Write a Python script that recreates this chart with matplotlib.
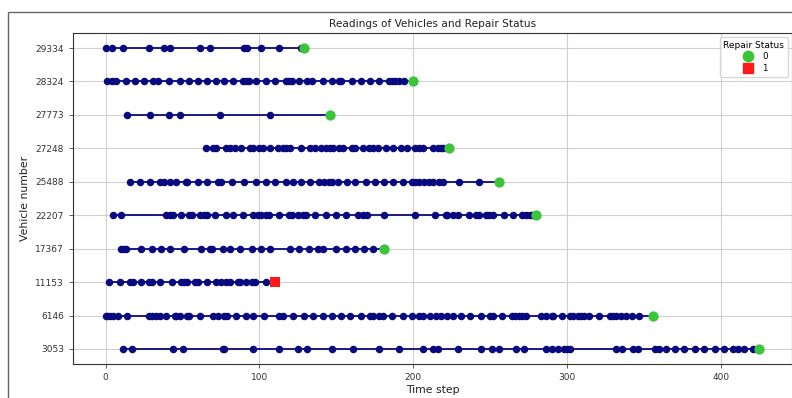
import matplotlib
matplotlib.use("Agg")
import matplotlib.pyplot as plt
from matplotlib.patches import Rectangle
from matplotlib.lines import Line2D

# Vehicles (bottom to top)
vehicles = ["3053", "6146", "11153", "17367", "22207", "25488", "27248", "27773", "28324", "29334"]

# Reading time steps per vehicle (last value = final reading, marked by repair status)
t_3053 = [11, 17, 44, 50, 76, 77, 96, 113, 125, 131, 147, 161, 178, 191, 206, 213, 216, 229,
          244, 251, 256, 267, 272, 286, 290, 294, 298, 300, 302, 332, 336, 343, 346, 357, 360,
          364, 370, 376, 383, 389, 396, 402, 408, 411, 415, 421, 425]
t_6146 = [0, 1, 3, 5, 8, 14, 28, 30, 33, 35, 39, 45, 46, 48, 53, 54, 61, 70, 73, 77, 79, 85, 91,
          96, 103, 113, 115, 122, 129, 135, 141, 147, 153, 159, 166, 172, 174, 178, 180, 186, 193,
          199, 204, 206, 211, 215, 218, 222, 226, 231, 237, 244, 250, 252, 258, 264, 266, 269, 271,
          273, 283, 286, 290, 291, 297, 302, 304, 307, 309, 311, 314, 321, 328, 330, 332, 335, 338,
          342, 347, 356]
t_11153 = [2, 9, 16, 18, 23, 28, 30, 35, 43, 49, 51, 53, 58, 60, 66, 72, 75, 78, 81, 86, 87, 91,
           95, 97, 104, 110]
t_17367 = [10, 12, 13, 23, 30, 36, 42, 51, 62, 68, 69, 76, 81, 87, 95, 101, 107, 120, 126, 132,
           138, 141, 150, 156, 162, 168, 174, 181]
t_22207 = [5, 10, 39, 42, 44, 49, 54, 56, 61, 64, 66, 71, 78, 83, 89, 96, 99, 101, 104, 106, 113,
           119, 121, 125, 128, 130, 136, 143, 150, 156, 164, 167, 170, 181, 201, 214, 221, 222, 226,
           229, 236, 241, 243, 247, 249, 252, 259, 265, 271, 273, 276, 277, 280]
t_25488 = [16, 22, 29, 35, 38, 42, 46, 52, 53, 60, 66, 73, 75, 82, 90, 98, 104, 110, 117, 122, 127,
           133, 139, 142, 145, 147, 151, 157, 162, 169, 175, 181, 187, 193, 199, 201, 204, 207, 210,
           213, 217, 219, 230, 243, 256]
t_27248 = [65, 70, 72, 78, 81, 84, 88, 94, 96, 100, 102, 107, 112, 115, 117, 120, 127, 133, 136,
           140, 143, 146, 148, 152, 154, 160, 162, 167, 171, 174, 177, 182, 187, 192, 196, 201, 204,
           206, 213, 216, 218, 219, 223]
t_27773 = [14, 29, 41, 48, 74, 107, 146]
t_28324 = [1, 4, 7, 13, 19, 25, 31, 34, 41, 48, 54, 60, 66, 72, 77, 83, 89, 91, 93, 98, 104, 110,
           117, 119, 121, 126, 131, 134, 141, 147, 152, 153, 160, 166, 172, 178, 184, 186, 188, 191,
           194, 200]
t_29334 = [0, 4, 11, 28, 38, 42, 61, 68, 90, 92, 101, 113, 127, 129]

readings = [t_3053, t_6146, t_11153, t_17367, t_22207, t_25488, t_27248, t_27773, t_28324, t_29334]
repair_status = [0, 0, 1, 0, 0, 0, 0, 0, 0, 0]

status_colors = {0: "#3DC53A", 1: "#FF1A1A"}
status_markers = {0: "o", 1: "s"}

fig = plt.figure(figsize=(7.92, 3.98), dpi=100)
ax = fig.add_axes([0.0922, 0.0854, 0.9078, 0.8317])

for vid, times, st in zip(vehicles, readings, repair_status):
    ys = [vid] * len(times)
    ax.plot(times, ys, color="#0A0A80", marker="o", markersize=4.4, linewidth=1.3, zorder=3)
    ax.scatter([times[-1]], [vid], s=55, color=status_colors[st], marker=status_markers[st],
               zorder=4, linewidths=0)

ax.set_xticks([0, 100, 200, 300, 400])
ax.grid(True, color="#d0d0d0", linewidth=0.8)
ax.set_axisbelow(True)
ax.tick_params(labelsize=6.5, length=3, width=0.6, color="#444444", labelcolor="#333333")
for s in ax.spines.values():
    s.set_linewidth(0.8)
    s.set_color("#333333")

ax.set_title("Readings of Vehicles and Repair Status", fontsize=7.6, pad=4, color="#222222")
ax.set_xlabel("Time step", fontsize=7.8, labelpad=2, color="#222222")
ax.set_ylabel("Vehicle number", fontsize=7.8, labelpad=4, color="#222222")

handles = [Line2D([], [], linestyle="none", marker=status_markers[k], color=status_colors[k],
                  markersize=7.5) for k in (0, 1)]
leg = ax.legend(handles, ["0", "1"], title="Repair Status", loc="upper right",
                fontsize=6.3, title_fontsize=6.5, handletextpad=0.6, borderpad=0.4,
                labelspacing=0.3, framealpha=0.8)

# outer screenshot frame
fig.patches.append(Rectangle((8 / 792, -0.05), 1.1, (398 - 12) / 398 + 0.05,
                             transform=fig.transFigure, fill=False, edgecolor="#666666",
                             linewidth=1.0, zorder=10))

fig.savefig("out.png", dpi=100)
